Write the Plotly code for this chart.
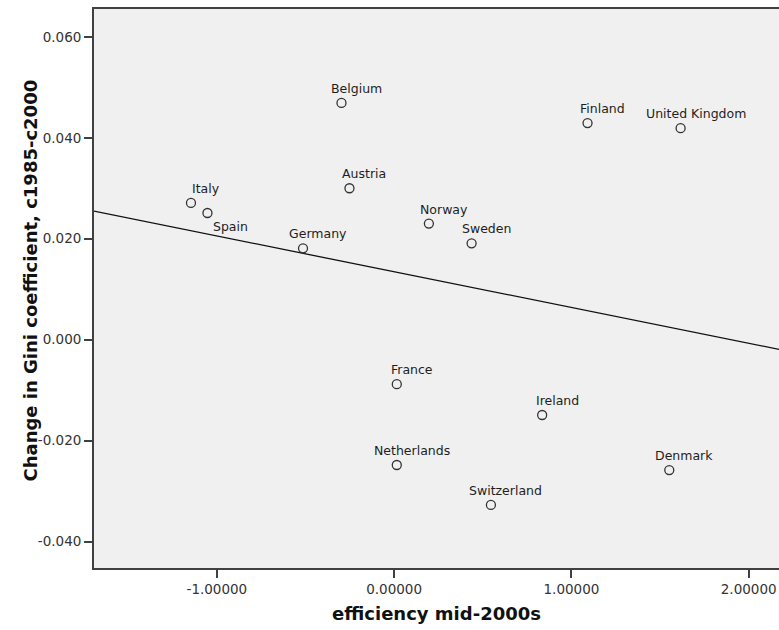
import numpy as np
import plotly.graph_objects as go

countries = ["Italy", "Spain", "Germany", "Belgium", "Austria", "France", "Netherlands",
             "Norway", "Sweden", "Switzerland", "Ireland", "Finland", "Denmark", "United Kingdom"]
efficiency = [-1.146, -1.053, -0.514, -0.297, -0.252, 0.015, 0.015,
              0.196, 0.437, 0.546, 0.835, 1.091, 1.552, 1.616]
gini_change = [0.0271, 0.0251, 0.0181, 0.0469, 0.0300, -0.0088, -0.0248,
               0.0230, 0.0191, -0.0327, -0.0149, 0.0429, -0.0258, 0.0419]

x_tickvals = [-1, 0, 1, 2]
x_ticktext = ["-1.00000", "0.00000", "1.00000", "2.00000"]
y_tickvals = [-0.04, -0.02, 0.0, 0.02, 0.04, 0.06]
y_ticktext = ["-0.040", "-0.020", "0.000", "0.020", "0.040", "0.060"]

x_title = "efficiency mid-2000s"
y_title = "Change in Gini coefficient, c1985-c2000"

x_range = [-1.693, 2.171]
y_range = [-0.0452, 0.0655]

slope, intercept = np.polyfit(efficiency, gini_change, 1)
fit_x = np.array(x_range)
fit_y = intercept + slope * fit_x

fig = go.Figure()
fig.add_trace(go.Scatter(x=fit_x, y=fit_y, mode="lines",
                         line=dict(color="#111111", width=1.3),
                         hoverinfo="skip", showlegend=False))
fig.add_trace(go.Scatter(x=efficiency, y=gini_change, mode="markers",
                         marker=dict(symbol="circle-open", size=9,
                                     color="#333333", line=dict(width=1.3, color="#333333")),
                         text=countries, showlegend=False))

for c, xv, yv in zip(countries, efficiency, gini_change):
    if c == "Spain":
        xs, ys = 23, -13
    else:
        xs, ys = 15, 14.5
    fig.add_annotation(x=xv, y=yv, text=c, showarrow=False, xshift=xs, yshift=ys,
                       font=dict(family="DejaVu Sans", size=12.5, color="#1e1e1e"))

axis_font = dict(family="DejaVu Sans", size=13.5, color="#333333")
title_font = dict(family="DejaVu Sans", size=18, color="#111111", weight="bold")

fig.add_annotation(xref="paper", yref="paper", x=0, y=0.5, xanchor="center", yanchor="middle",
                   xshift=-64, yshift=8, textangle=-90, text=y_title, showarrow=False,
                   font=title_font)

fig.update_layout(
    width=779, height=630,
    margin=dict(l=94, r=0, t=9, b=62),
    paper_bgcolor="white",
    plot_bgcolor="#f0f0f0",
    showlegend=False,
    xaxis=dict(range=x_range, tickvals=x_tickvals, ticktext=x_ticktext,
               showgrid=False, zeroline=False, showline=True, mirror=True,
               linecolor="#404040", linewidth=1.8,
               ticks="outside", ticklen=8, tickcolor="#404040", tickwidth=1.5,
               tickfont=axis_font,
               title=dict(text=x_title, font=title_font, standoff=11)),
    yaxis=dict(range=y_range, tickvals=y_tickvals, ticktext=y_ticktext,
               showgrid=False, zeroline=False, showline=True, mirror=False,
               linecolor="#404040", linewidth=1.8,
               ticks="outside", ticklen=8, tickcolor="#404040", tickwidth=1.5,
               tickfont=axis_font),
)

fig.write_html("out.html")
